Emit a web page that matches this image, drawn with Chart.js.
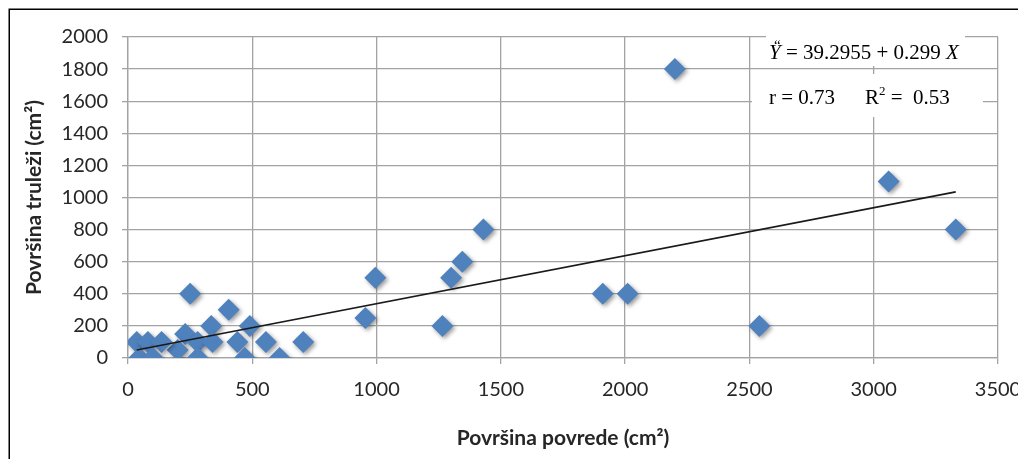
<!DOCTYPE html>
<html lang="hr">
<head>
    <meta charset="UTF-8">
    <title>Površina povrede / truleži</title>
    <script src="https://cdn.jsdelivr.net/npm/chart.js"></script>
    <style>
        html, body { margin: 0; padding: 0; background: #fff; }
        .chart-box { position: relative; width: 1018px; height: 459px; }
    </style>
</head>
<body>
    <div class="chart-box">
        <canvas id="scatterChart"></canvas>
    </div>

    <script>
        // measured values (cm2)
        const povreda = [2200, 3060, 3330, 1430, 1345, 1300, 995, 955, 1265, 1910, 2010, 2540,
                         250, 405, 335, 490, 230, 200, 35, 80, 135, 280, 340, 440, 555, 705,
                         45, 100, 280, 470, 610];
        const trulez  = [1800, 1100, 800, 800, 600, 500, 500, 250, 200, 400, 400, 200,
                         400, 300, 200, 200, 150, 50, 100, 100, 100, 100, 100, 100, 100, 100,
                         0, 0, 0, 0, 0];

        // regression line end points
        const trendX = [35, 3330];
        const trendY = [50, 1035];

        const xTicks = [0, 500, 1000, 1500, 2000, 2500, 3000, 3500];
        const yTicks = [0, 200, 400, 600, 800, 1000, 1200, 1400, 1600, 1800, 2000];

        const points = povreda.map((x, i) => ({ x: x, y: trulez[i] }));
        const trend = trendX.map((x, i) => ({ x: x, y: trendY[i] }));

        const gridColor = '#a3a3a3';
        const tickFont = { family: 'Lato', size: 20 };
        const titleFont = { family: 'Lato', size: 21, weight: 'bold' };

        // white background + outer frame, soft shadow for the diamonds, equation box
        const extras = {
            id: 'extras',
            beforeDraw(chart) {
                const ctx = chart.ctx;
                ctx.save();
                ctx.fillStyle = '#fff';
                ctx.fillRect(0, 0, chart.width, chart.height);
                ctx.strokeStyle = '#000';
                ctx.lineWidth = 1.5;
                ctx.strokeRect(9.25, 9.25, chart.width + 10, chart.height + 10);
                ctx.restore();
            },
            beforeDatasetDraw(chart, args) {
                if (args.index === 1) {
                    const ctx = chart.ctx;
                    ctx.shadowColor = 'rgba(0,0,0,0.4)';
                    ctx.shadowBlur = 4;
                    ctx.shadowOffsetX = 2;
                    ctx.shadowOffsetY = 2;
                }
            },
            afterDatasetDraw(chart, args) {
                if (args.index === 1) {
                    const ctx = chart.ctx;
                    ctx.shadowColor = 'transparent';
                    ctx.shadowBlur = 0;
                    ctx.shadowOffsetX = 0;
                    ctx.shadowOffsetY = 0;
                }
            },
            afterDraw(chart) {
                const ctx = chart.ctx;
                ctx.save();
                ctx.fillStyle = '#fff';
                ctx.fillRect(766, 28, 199, 38);
                ctx.fillRect(752, 74, 231, 43);

                ctx.fillStyle = '#000';
                ctx.textBaseline = 'alphabetic';
                const reg = '21px "Liberation Serif"';
                const ita = 'italic 21px "Liberation Serif"';

                // row 1
                let x = 769;
                ctx.font = ita;
                ctx.fillText('Y', x, 59);
                ctx.font = '15px "Liberation Serif"';
                ctx.fillText('\u201C', x + 5, 50);
                ctx.font = ita;
                x += ctx.measureText('Y').width;
                ctx.font = reg;
                const mid = ' = 39.2955 + 0.299 ';
                ctx.fillText(mid, x, 59);
                x += ctx.measureText(mid).width;
                ctx.font = ita;
                ctx.fillText('X', x, 59);

                // row 2
                ctx.font = reg;
                ctx.fillText('r = 0.73', 769, 104);
                x = 865;
                ctx.fillText('R', x, 104);
                x += ctx.measureText('R').width;
                ctx.font = '13px "Liberation Serif"';
                ctx.fillText('2', x, 95);
                x += ctx.measureText('2').width;
                ctx.font = reg;
                ctx.fillText(' =  0.53', x, 104);
                ctx.restore();
            }
        };

        const ctx = document.getElementById('scatterChart').getContext('2d');
        new Chart(ctx, {
            type: 'scatter',
            data: {
                datasets: [
                    {
                        type: 'line',
                        label: 'Trend',
                        data: trend,
                        borderColor: '#1a1a1a',
                        borderWidth: 1.6,
                        pointRadius: 0,
                        fill: false,
                        order: 0
                    },
                    {
                        label: 'Površina',
                        data: points,
                        pointStyle: 'rectRot',
                        pointRadius: 11,
                        pointHoverRadius: 11,
                        backgroundColor: '#4F81BD',
                        borderColor: '#4F81BD',
                        borderWidth: 0,
                        order: 1
                    }
                ]
            },
            options: {
                responsive: true,
                maintainAspectRatio: false,
                animation: false,
                layout: {
                    padding: { left: 0, right: 20, top: 37, bottom: 0 }
                },
                scales: {
                    x: {
                        type: 'linear',
                        min: 0,
                        max: 3500,
                        afterBuildTicks: scale => { scale.ticks = xTicks.map(v => ({ value: v })); },
                        afterFit: scale => {
                            scale.height = 101;
                            scale.paddingLeft = 0;
                            scale.paddingRight = 0;
                        },
                        grid: { color: gridColor, lineWidth: 1.3, tickLength: 6 },
                        border: { color: gridColor, width: 1.3 },
                        ticks: {
                            font: tickFont, color: '#262626', padding: 14, maxRotation: 0,
                            callback: v => String(v)
                        },
                        title: {
                            display: true,
                            text: 'Površina povrede (cm²)',
                            font: titleFont,
                            color: '#262626',
                            padding: { top: 0, bottom: 8 }
                        }
                    },
                    y: {
                        min: 0,
                        max: 2000,
                        afterBuildTicks: scale => { scale.ticks = yTicks.map(v => ({ value: v })); },
                        afterFit: scale => {
                            scale.width = 128;
                            scale.paddingTop = 0;
                            scale.paddingBottom = 0;
                        },
                        grid: { color: gridColor, lineWidth: 1.3, tickLength: 6 },
                        border: { color: gridColor, width: 1.3 },
                        ticks: {
                            font: tickFont, color: '#262626', padding: 14,
                            callback: v => String(v)
                        },
                        title: {
                            display: true,
                            text: 'Površina truleži (cm²)',
                            font: titleFont,
                            color: '#262626',
                            padding: { top: 22, bottom: 0 }
                        }
                    }
                },
                plugins: {
                    legend: { display: false },
                    tooltip: { enabled: false }
                }
            },
            plugins: [extras]
        });
    </script>
</body>
</html>
